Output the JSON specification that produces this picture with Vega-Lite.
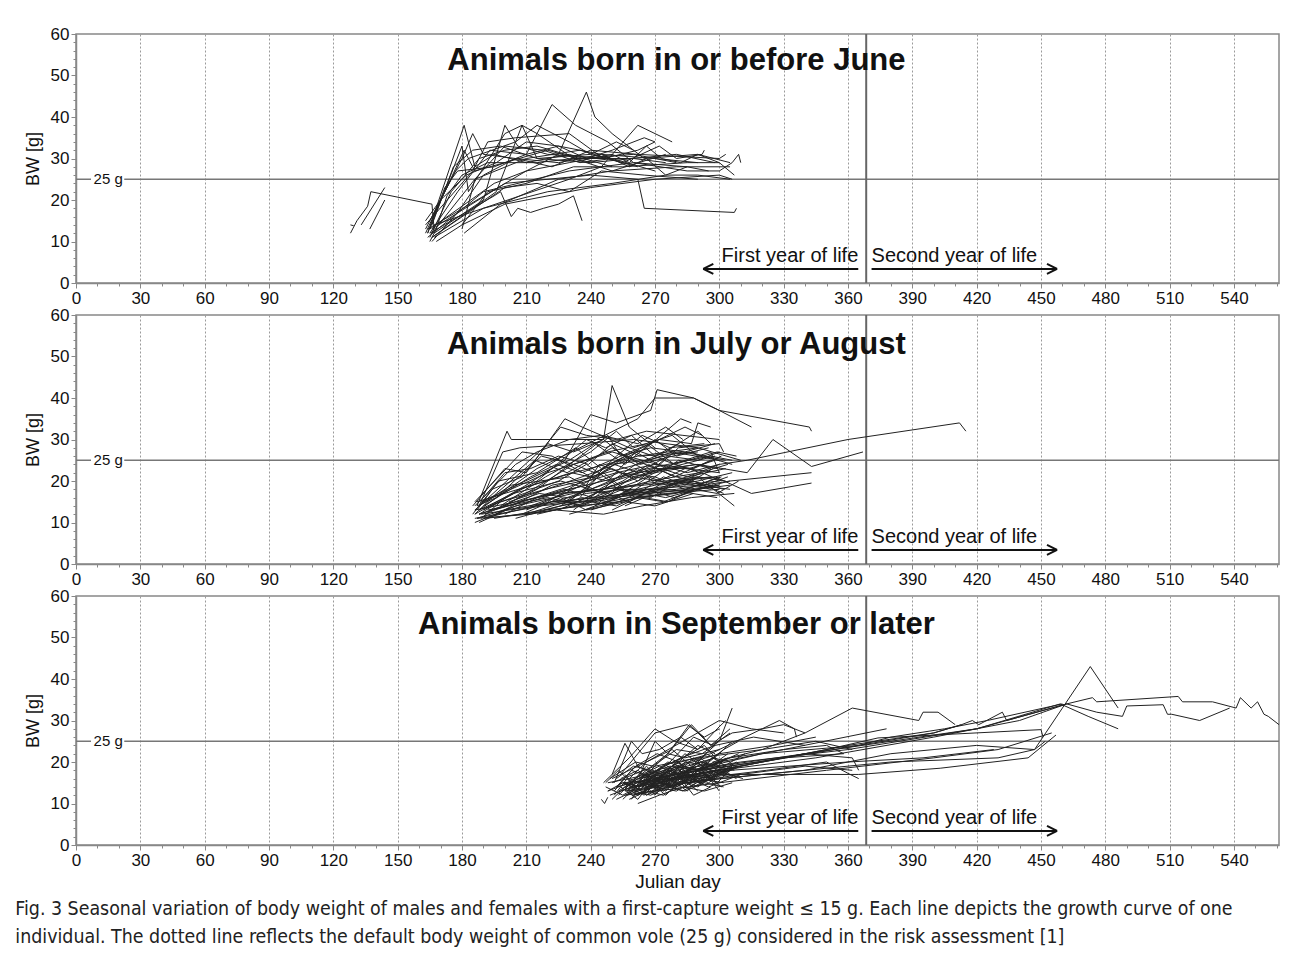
{
  "$schema": "https://vega.github.io/schema/vega-lite/v6.json",
  "padding": {"left": 15, "top": 24, "right": 5, "bottom": 5},
  "background": "white",
  "spacing": 32,
  "bounds": "flush",
  "config": {
    "font": "Liberation Sans",
    "view": {"stroke": "#888", "strokeWidth": 1.5},
    "axis": {"labelFont": "Liberation Sans", "titleFont": "Liberation Sans", "labelColor": "#111", "titleColor": "#111", "labelFontSize": 17, "titleFontSize": 18, "titleFontWeight": "normal", "domainColor": "#888", "domainWidth": 1.5, "tickColor": "#888", "labelFlush": false, "labelOverlap": false},
    "text": {"font": "Liberation Sans", "color": "#111"}
  },
  "title": {
    "text": ["Fig. 3  Seasonal variation of body weight of males and females with a first-capture weight ≤ 15 g. Each line depicts the growth curve of one", "individual. The dotted line reflects the default body weight of common vole (25 g) considered in the risk assessment [1]"],
    "orient": "bottom", "anchor": "start", "frame": "bounds", "font": "'DejaVu Sans Condensed', 'Liberation Sans', sans-serif", "fontSize": 19.4, "fontWeight": "normal", "color": "#222", "lineHeight": 28, "offset": 8, "dx": -8
  },
  "datasets": {
    "p1": [
      {"id":1,"day":128,"bw":12},{"id":1,"day":131,"bw":15},{"id":1,"day":136,"bw":18.5},{"id":1,"day":137.5,"bw":22},{"id":1,"day":166,"bw":19},{"id":1,"day":167,"bw":13},
      {"id":2,"day":133,"bw":14},{"id":2,"day":144,"bw":23},
      {"id":3,"day":137,"bw":13},{"id":3,"day":144,"bw":20},
      {"id":4,"day":128,"bw":14},{"id":4,"day":129.5,"bw":13.8},
      {"id":5,"day":164,"bw":12},{"id":5,"day":181,"bw":38},{"id":5,"day":186,"bw":28},{"id":5,"day":195,"bw":31},{"id":5,"day":210,"bw":29},{"id":5,"day":230,"bw":31},{"id":5,"day":250,"bw":28},
      {"id":6,"day":165,"bw":11},{"id":6,"day":175,"bw":22},{"id":6,"day":188,"bw":30},{"id":6,"day":200,"bw":32},{"id":6,"day":215,"bw":33},{"id":6,"day":235,"bw":30},{"id":6,"day":260,"bw":31},{"id":6,"day":280,"bw":29},
      {"id":7,"day":163,"bw":15},{"id":7,"day":170,"bw":20},{"id":7,"day":182,"bw":26},{"id":7,"day":196,"bw":29},{"id":7,"day":210,"bw":34},{"id":7,"day":225,"bw":33},{"id":7,"day":245,"bw":31},{"id":7,"day":270,"bw":30},{"id":7,"day":290,"bw":29},
      {"id":8,"day":166,"bw":10},{"id":8,"day":178,"bw":17},{"id":8,"day":190,"bw":26},{"id":8,"day":205,"bw":30},{"id":8,"day":222,"bw":28},{"id":8,"day":240,"bw":32},{"id":8,"day":262,"bw":31},{"id":8,"day":300,"bw":30},{"id":8,"day":303,"bw":31},
      {"id":9,"day":165,"bw":13},{"id":9,"day":174,"bw":25},{"id":9,"day":180,"bw":33},{"id":9,"day":183,"bw":22},{"id":9,"day":200,"bw":36},{"id":9,"day":208,"bw":38},{"id":9,"day":215,"bw":30},{"id":9,"day":240,"bw":29},
      {"id":10,"day":167,"bw":12},{"id":10,"day":190,"bw":20},{"id":10,"day":200,"bw":38},{"id":10,"day":206,"bw":33},{"id":10,"day":220,"bw":31},{"id":10,"day":250,"bw":30},{"id":10,"day":270,"bw":27},
      {"id":11,"day":163,"bw":14},{"id":11,"day":185,"bw":27},{"id":11,"day":192,"bw":34},{"id":11,"day":205,"bw":35},{"id":11,"day":230,"bw":36},{"id":11,"day":246,"bw":30},{"id":11,"day":262,"bw":32},{"id":11,"day":270,"bw":34},
      {"id":12,"day":166,"bw":11},{"id":12,"day":196,"bw":22},{"id":12,"day":208,"bw":38},{"id":12,"day":215,"bw":36},{"id":12,"day":232,"bw":30},{"id":12,"day":250,"bw":27},{"id":12,"day":275,"bw":31},
      {"id":13,"day":165,"bw":12},{"id":13,"day":178,"bw":22},{"id":13,"day":193,"bw":32},{"id":13,"day":210,"bw":31},{"id":13,"day":222,"bw":43},{"id":13,"day":233,"bw":38},{"id":13,"day":248,"bw":34},{"id":13,"day":260,"bw":29},{"id":13,"day":285,"bw":28},
      {"id":14,"day":164,"bw":13},{"id":14,"day":210,"bw":27},{"id":14,"day":225,"bw":31},{"id":14,"day":238,"bw":46},{"id":14,"day":242,"bw":40},{"id":14,"day":250,"bw":36},{"id":14,"day":265,"bw":30},{"id":14,"day":290,"bw":31},{"id":14,"day":305,"bw":29},
      {"id":15,"day":167,"bw":14},{"id":15,"day":230,"bw":25},{"id":15,"day":245,"bw":28},{"id":15,"day":262,"bw":38},{"id":15,"day":278,"bw":34},
      {"id":16,"day":165,"bw":12},{"id":16,"day":195,"bw":21},{"id":16,"day":198,"bw":22},{"id":16,"day":203,"bw":16},{"id":16,"day":206,"bw":18},{"id":16,"day":212,"bw":17},{"id":16,"day":218,"bw":18},{"id":16,"day":225,"bw":19},{"id":16,"day":232,"bw":21},{"id":16,"day":236,"bw":15},
      {"id":17,"day":166,"bw":13},{"id":17,"day":200,"bw":24},{"id":17,"day":240,"bw":26},{"id":17,"day":262,"bw":25},{"id":17,"day":265,"bw":18},{"id":17,"day":307,"bw":17},{"id":17,"day":308,"bw":18},
      {"id":18,"day":164,"bw":11},{"id":18,"day":190,"bw":22},{"id":18,"day":230,"bw":27},{"id":18,"day":260,"bw":29},{"id":18,"day":285,"bw":27},{"id":18,"day":300,"bw":27},{"id":18,"day":306,"bw":29},{"id":18,"day":309,"bw":31},{"id":18,"day":310,"bw":29},
      {"id":19,"day":166,"bw":12},{"id":19,"day":186,"bw":25},{"id":19,"day":210,"bw":30},{"id":19,"day":235,"bw":32},{"id":19,"day":255,"bw":29},{"id":19,"day":272,"bw":33},{"id":19,"day":280,"bw":30},{"id":19,"day":292,"bw":31},{"id":19,"day":293,"bw":32},
      {"id":20,"day":168,"bw":10},{"id":20,"day":180,"bw":14},{"id":20,"day":200,"bw":19},{"id":20,"day":240,"bw":23},{"id":20,"day":270,"bw":25},{"id":20,"day":300,"bw":26},{"id":20,"day":306,"bw":25},
      {"id":21,"day":165,"bw":15},{"id":21,"day":180,"bw":30},{"id":21,"day":185,"bw":36},{"id":21,"day":190,"bw":31},{"id":21,"day":205,"bw":30},{"id":21,"day":225,"bw":29},{"id":21,"day":245,"bw":31},{"id":21,"day":258,"bw":28},{"id":21,"day":266,"bw":30},{"id":21,"day":275,"bw":26},{"id":21,"day":285,"bw":28},{"id":21,"day":295,"bw":27},
      {"id":22,"day":163,"bw":12},{"id":22,"day":181,"bw":32},{"id":22,"day":186,"bw":27},{"id":22,"day":200,"bw":29},{"id":22,"day":220,"bw":32},{"id":22,"day":240,"bw":29},{"id":22,"day":260,"bw":30},{"id":22,"day":280,"bw":31},{"id":22,"day":298,"bw":29},
      {"id":23,"day":166,"bw":14},{"id":23,"day":176,"bw":28},{"id":23,"day":185,"bw":32},{"id":23,"day":198,"bw":33},{"id":23,"day":215,"bw":30},{"id":23,"day":240,"bw":31},{"id":23,"day":252,"bw":34},{"id":23,"day":260,"bw":32},
      {"id":24,"day":167,"bw":11},{"id":24,"day":190,"bw":18},{"id":24,"day":220,"bw":22},{"id":24,"day":250,"bw":24},{"id":24,"day":275,"bw":26},{"id":24,"day":290,"bw":26},{"id":24,"day":305,"bw":25},
      {"id":25,"day":165,"bw":13},{"id":25,"day":195,"bw":24},{"id":25,"day":210,"bw":27},{"id":25,"day":230,"bw":29},{"id":25,"day":250,"bw":31},{"id":25,"day":258,"bw":29},{"id":25,"day":266,"bw":33},{"id":25,"day":273,"bw":30},{"id":25,"day":282,"bw":29},{"id":25,"day":290,"bw":31},{"id":25,"day":300,"bw":29},{"id":25,"day":307,"bw":26},
      {"id":26,"day":164,"bw":12},{"id":26,"day":172,"bw":23},{"id":26,"day":178,"bw":27},{"id":26,"day":195,"bw":28},{"id":26,"day":210,"bw":31},{"id":26,"day":225,"bw":33},{"id":26,"day":238,"bw":30},{"id":26,"day":250,"bw":32},{"id":26,"day":265,"bw":35},{"id":26,"day":270,"bw":34},
      {"id":27,"day":166,"bw":11},{"id":27,"day":200,"bw":23},{"id":27,"day":215,"bw":24},{"id":27,"day":230,"bw":22},{"id":27,"day":245,"bw":27},{"id":27,"day":265,"bw":26},{"id":27,"day":290,"bw":25},
      {"id":28,"day":163,"bw":13},{"id":28,"day":177,"bw":27},{"id":28,"day":183,"bw":30},{"id":28,"day":205,"bw":34},{"id":28,"day":215,"bw":38},{"id":28,"day":230,"bw":34},{"id":28,"day":240,"bw":31},{"id":28,"day":262,"bw":28},
      {"id":29,"day":180,"bw":13},{"id":29,"day":186,"bw":25},{"id":29,"day":200,"bw":33},{"id":29,"day":218,"bw":32},{"id":29,"day":235,"bw":29},{"id":29,"day":250,"bw":30},
      {"id":30,"day":180,"bw":14},{"id":30,"day":192,"bw":22},{"id":30,"day":210,"bw":24},{"id":30,"day":232,"bw":28},{"id":30,"day":255,"bw":28},{"id":30,"day":285,"bw":29},{"id":30,"day":300,"bw":29},
      {"id":31,"day":181,"bw":12},{"id":31,"day":198,"bw":19},{"id":31,"day":225,"bw":25},{"id":31,"day":250,"bw":27},{"id":31,"day":280,"bw":28},{"id":31,"day":305,"bw":28},
      {"id":32,"day":165,"bw":10},{"id":32,"day":168,"bw":13},{"id":32,"day":173,"bw":21},{"id":32,"day":180,"bw":26},{"id":32,"day":192,"bw":29},{"id":32,"day":215,"bw":29},{"id":32,"day":232,"bw":30},{"id":32,"day":260,"bw":30},{"id":32,"day":275,"bw":29}
    ],
    "p2": [
      {"id":1,"day":187,"bw":14},{"id":1,"day":201,"bw":32},{"id":1,"day":203,"bw":30},{"id":1,"day":246,"bw":30},{"id":1,"day":250,"bw":43},{"id":1,"day":258,"bw":33},{"id":1,"day":270,"bw":28},
      {"id":2,"day":186,"bw":12},{"id":2,"day":210,"bw":19},{"id":2,"day":228,"bw":25},{"id":2,"day":240,"bw":36},{"id":2,"day":252,"bw":34},{"id":2,"day":268,"bw":37},{"id":2,"day":271,"bw":42},{"id":2,"day":288,"bw":40},{"id":2,"day":300,"bw":37},{"id":2,"day":315,"bw":33},
      {"id":3,"day":188,"bw":13},{"id":3,"day":215,"bw":23},{"id":3,"day":235,"bw":28},{"id":3,"day":262,"bw":35},{"id":3,"day":270,"bw":40},{"id":3,"day":288,"bw":40},{"id":3,"day":300,"bw":37},{"id":3,"day":342,"bw":33},{"id":3,"day":343,"bw":32},
      {"id":4,"day":190,"bw":15},{"id":4,"day":220,"bw":22},{"id":4,"day":250,"bw":27},{"id":4,"day":285,"bw":22},{"id":4,"day":300,"bw":24},{"id":4,"day":313,"bw":25},{"id":4,"day":360,"bw":30},{"id":4,"day":412,"bw":34},{"id":4,"day":415,"bw":32},
      {"id":5,"day":187,"bw":11},{"id":5,"day":230,"bw":18},{"id":5,"day":262,"bw":22},{"id":5,"day":290,"bw":24},{"id":5,"day":313,"bw":22},{"id":5,"day":325,"bw":30},{"id":5,"day":343,"bw":23.5},{"id":5,"day":367,"bw":27},
      {"id":6,"day":186,"bw":13},{"id":6,"day":225,"bw":17},{"id":6,"day":265,"bw":19},{"id":6,"day":298,"bw":21},{"id":6,"day":315,"bw":17},{"id":6,"day":343,"bw":19.5},
      {"id":7,"day":189,"bw":12},{"id":7,"day":240,"bw":16},{"id":7,"day":280,"bw":18},{"id":7,"day":305,"bw":20},{"id":7,"day":343,"bw":22},
      {"id":8,"day":185,"bw":14},{"id":8,"day":200,"bw":23},{"id":8,"day":210,"bw":22},{"id":8,"day":228,"bw":35},{"id":8,"day":236,"bw":33},{"id":8,"day":245,"bw":31},{"id":8,"day":258,"bw":28},{"id":8,"day":275,"bw":25},
      {"id":9,"day":188,"bw":10},{"id":9,"day":205,"bw":14},{"id":9,"day":232,"bw":17},{"id":9,"day":260,"bw":19},{"id":9,"day":290,"bw":21},{"id":9,"day":307,"bw":14},
      {"id":10,"day":191,"bw":12},{"id":10,"day":215,"bw":18},{"id":10,"day":248,"bw":31},{"id":10,"day":254,"bw":26},{"id":10,"day":272,"bw":30},{"id":10,"day":287,"bw":29},{"id":10,"day":290,"bw":34},{"id":10,"day":296,"bw":33},
      {"id":11,"day":186,"bw":15},{"id":11,"day":208,"bw":27},{"id":11,"day":222,"bw":26},{"id":11,"day":240,"bw":21},{"id":11,"day":262,"bw":24},{"id":11,"day":278,"bw":27},{"id":11,"day":300,"bw":25},
      {"id":12,"day":187,"bw":13},{"id":12,"day":197,"bw":20},{"id":12,"day":215,"bw":22},{"id":12,"day":233,"bw":28},{"id":12,"day":245,"bw":23},{"id":12,"day":256,"bw":26},{"id":12,"day":280,"bw":21},{"id":12,"day":302,"bw":18},
      {"id":13,"day":190,"bw":11},{"id":13,"day":222,"bw":15},{"id":13,"day":242,"bw":15},{"id":13,"day":262,"bw":17},{"id":13,"day":282,"bw":19},{"id":13,"day":300,"bw":20},
      {"id":14,"day":188,"bw":14},{"id":14,"day":203,"bw":19},{"id":14,"day":230,"bw":21},{"id":14,"day":245,"bw":17},{"id":14,"day":268,"bw":20},{"id":14,"day":291,"bw":22},
      {"id":15,"day":192,"bw":13},{"id":15,"day":220,"bw":16},{"id":15,"day":236,"bw":14},{"id":15,"day":255,"bw":18},{"id":15,"day":275,"bw":16},{"id":15,"day":297,"bw":19},
      {"id":16,"day":186,"bw":12},{"id":16,"day":196,"bw":17},{"id":16,"day":214,"bw":25},{"id":16,"day":229,"bw":22},{"id":16,"day":250,"bw":28},{"id":16,"day":263,"bw":24},{"id":16,"day":286,"bw":27},{"id":16,"day":306,"bw":24},
      {"id":17,"day":189,"bw":15},{"id":17,"day":230,"bw":25},{"id":17,"day":242,"bw":29},{"id":17,"day":256,"bw":24},{"id":17,"day":270,"bw":30},{"id":17,"day":280,"bw":26},{"id":17,"day":295,"bw":28},
      {"id":18,"day":187,"bw":11},{"id":18,"day":212,"bw":12},{"id":18,"day":234,"bw":14},{"id":18,"day":253,"bw":15},{"id":18,"day":275,"bw":17},{"id":18,"day":300,"bw":18},
      {"id":19,"day":193,"bw":14},{"id":19,"day":225,"bw":20},{"id":19,"day":238,"bw":24},{"id":19,"day":252,"bw":19},{"id":19,"day":266,"bw":22},{"id":19,"day":289,"bw":24},{"id":19,"day":299,"bw":23},
      {"id":20,"day":188,"bw":12},{"id":20,"day":207,"bw":18},{"id":20,"day":231,"bw":22},{"id":20,"day":248,"bw":20},{"id":20,"day":261,"bw":27},{"id":20,"day":275,"bw":23},{"id":20,"day":298,"bw":26},
      {"id":21,"day":200,"bw":12},{"id":21,"day":215,"bw":16},{"id":21,"day":238,"bw":19},{"id":21,"day":244,"bw":24},{"id":21,"day":259,"bw":21},{"id":21,"day":281,"bw":23},
      {"id":22,"day":205,"bw":11},{"id":22,"day":226,"bw":14},{"id":22,"day":248,"bw":16},{"id":22,"day":266,"bw":18},{"id":22,"day":290,"bw":20},{"id":22,"day":306,"bw":22},
      {"id":23,"day":210,"bw":13},{"id":23,"day":232,"bw":18},{"id":23,"day":246,"bw":22},{"id":23,"day":258,"bw":17},{"id":23,"day":270,"bw":21},{"id":23,"day":284,"bw":18},{"id":23,"day":301,"bw":21},
      {"id":24,"day":215,"bw":12},{"id":24,"day":240,"bw":15},{"id":24,"day":252,"bw":14},{"id":24,"day":265,"bw":17},{"id":24,"day":290,"bw":18},{"id":24,"day":305,"bw":19},
      {"id":25,"day":198,"bw":14},{"id":25,"day":219,"bw":21},{"id":25,"day":240,"bw":27},{"id":25,"day":252,"bw":32},{"id":25,"day":260,"bw":28},{"id":25,"day":278,"bw":31},{"id":25,"day":290,"bw":26},
      {"id":26,"day":225,"bw":13},{"id":26,"day":238,"bw":16},{"id":26,"day":255,"bw":20},{"id":26,"day":267,"bw":24},{"id":26,"day":279,"bw":21},{"id":26,"day":296,"bw":25},
      {"id":27,"day":230,"bw":12},{"id":27,"day":244,"bw":14},{"id":27,"day":262,"bw":16},{"id":27,"day":280,"bw":17},{"id":27,"day":300,"bw":21},
      {"id":28,"day":220,"bw":15},{"id":28,"day":236,"bw":20},{"id":28,"day":250,"bw":23},{"id":28,"day":262,"bw":20},{"id":28,"day":274,"bw":25},{"id":28,"day":291,"bw":22},{"id":28,"day":304,"bw":24},
      {"id":29,"day":235,"bw":14},{"id":29,"day":248,"bw":17},{"id":29,"day":258,"bw":15},{"id":29,"day":272,"bw":19},{"id":29,"day":288,"bw":20},{"id":29,"day":302,"bw":17},
      {"id":30,"day":196,"bw":12},{"id":30,"day":222,"bw":19},{"id":30,"day":242,"bw":21},{"id":30,"day":252,"bw":26},{"id":30,"day":264,"bw":31},{"id":30,"day":277,"bw":28},{"id":30,"day":293,"bw":29},
      {"id":31,"day":240,"bw":13},{"id":31,"day":253,"bw":15},{"id":31,"day":266,"bw":18},{"id":31,"day":279,"bw":16},{"id":31,"day":297,"bw":19},
      {"id":32,"day":212,"bw":14},{"id":32,"day":228,"bw":17},{"id":32,"day":244,"bw":18},{"id":32,"day":262,"bw":23},{"id":32,"day":271,"bw":19},{"id":32,"day":285,"bw":21},{"id":32,"day":303,"bw":23},
      {"id":33,"day":187,"bw":14},{"id":33,"day":196,"bw":16},{"id":33,"day":217,"bw":26},{"id":33,"day":232,"bw":24},{"id":33,"day":248,"bw":27},{"id":33,"day":266,"bw":29},{"id":33,"day":279,"bw":24},{"id":33,"day":299,"bw":27},{"id":33,"day":308,"bw":26},
      {"id":34,"day":250,"bw":13},{"id":34,"day":262,"bw":16},{"id":34,"day":274,"bw":15},{"id":34,"day":289,"bw":18},{"id":34,"day":305,"bw":20},
      {"id":35,"day":190,"bw":13},{"id":35,"day":215,"bw":20},{"id":35,"day":238,"bw":30},{"id":35,"day":247,"bw":28},{"id":35,"day":259,"bw":31},{"id":35,"day":270,"bw":26},{"id":35,"day":281,"bw":29},
      {"id":36,"day":188,"bw":12},{"id":36,"day":216,"bw":17},{"id":36,"day":229,"bw":16},{"id":36,"day":251,"bw":20},{"id":36,"day":269,"bw":23},{"id":36,"day":286,"bw":23},{"id":36,"day":298,"bw":25},
      {"id":37,"day":202,"bw":15},{"id":37,"day":225,"bw":19},{"id":37,"day":236,"bw":21},{"id":37,"day":257,"bw":25},{"id":37,"day":268,"bw":22},{"id":37,"day":281,"bw":28},{"id":37,"day":300,"bw":29},{"id":37,"day":302,"bw":27},
      {"id":38,"day":186,"bw":14},{"id":38,"day":205,"bw":24},{"id":38,"day":215,"bw":27},{"id":38,"day":230,"bw":30},{"id":38,"day":245,"bw":31},{"id":38,"day":262,"bw":29},{"id":38,"day":275,"bw":33},{"id":38,"day":283,"bw":30},
      {"id":39,"day":228,"bw":15},{"id":39,"day":240,"bw":19},{"id":39,"day":253,"bw":22},{"id":39,"day":270,"bw":21},{"id":39,"day":281,"bw":25},{"id":39,"day":296,"bw":23},
      {"id":40,"day":185,"bw":12},{"id":40,"day":194,"bw":18},{"id":40,"day":208,"bw":21},{"id":40,"day":220,"bw":29},{"id":40,"day":232,"bw":27},{"id":40,"day":246,"bw":30},{"id":40,"day":258,"bw":25},
      {"id":41,"day":245,"bw":14},{"id":41,"day":255,"bw":17},{"id":41,"day":267,"bw":21},{"id":41,"day":278,"bw":19},{"id":41,"day":292,"bw":22},{"id":41,"day":301,"bw":20},
      {"id":42,"day":218,"bw":13},{"id":42,"day":234,"bw":15},{"id":42,"day":250,"bw":19},{"id":42,"day":261,"bw":16},{"id":42,"day":281,"bw":20},{"id":42,"day":296,"bw":18},
      {"id":43,"day":189,"bw":11},{"id":43,"day":198,"bw":15},{"id":43,"day":219,"bw":18},{"id":43,"day":236,"bw":20},{"id":43,"day":249,"bw":24},{"id":43,"day":266,"bw":25},{"id":43,"day":283,"bw":27},{"id":43,"day":303,"bw":25},
      {"id":44,"day":190,"bw":16},{"id":44,"day":200,"bw":22},{"id":44,"day":212,"bw":23},{"id":44,"day":225,"bw":26},{"id":44,"day":239,"bw":24},{"id":44,"day":250,"bw":29},{"id":44,"day":263,"bw":26},{"id":44,"day":290,"bw":27},
      {"id":45,"day":232,"bw":13},{"id":45,"day":245,"bw":18},{"id":45,"day":258,"bw":20},{"id":45,"day":273,"bw":23},{"id":45,"day":285,"bw":21},{"id":45,"day":300,"bw":24},
      {"id":46,"day":186,"bw":13},{"id":46,"day":203,"bw":21},{"id":46,"day":218,"bw":28},{"id":46,"day":226,"bw":33},{"id":46,"day":238,"bw":31},{"id":46,"day":252,"bw":30},{"id":46,"day":266,"bw":32},{"id":46,"day":283,"bw":31},{"id":46,"day":300,"bw":30},
      {"id":47,"day":222,"bw":15},{"id":47,"day":238,"bw":17},{"id":47,"day":256,"bw":18},{"id":47,"day":276,"bw":18},{"id":47,"day":299,"bw":16},
      {"id":48,"day":187,"bw":15},{"id":48,"day":232,"bw":22},{"id":48,"day":262,"bw":26},{"id":48,"day":290,"bw":28},{"id":48,"day":310,"bw":25},
      {"id":49,"day":191,"bw":11},{"id":49,"day":224,"bw":13},{"id":49,"day":246,"bw":12},{"id":49,"day":264,"bw":14},{"id":49,"day":287,"bw":16},{"id":49,"day":307,"bw":17},
      {"id":50,"day":208,"bw":12},{"id":50,"day":226,"bw":16},{"id":50,"day":238,"bw":13},{"id":50,"day":256,"bw":15},{"id":50,"day":270,"bw":14},{"id":50,"day":288,"bw":17},
      {"id":51,"day":188,"bw":14},{"id":51,"day":199,"bw":27},{"id":51,"day":207,"bw":28},{"id":51,"day":236,"bw":29},{"id":51,"day":260,"bw":30},{"id":51,"day":290,"bw":28},
      {"id":52,"day":240,"bw":15},{"id":52,"day":250,"bw":20},{"id":52,"day":261,"bw":24},{"id":52,"day":275,"bw":27},{"id":52,"day":290,"bw":32},{"id":52,"day":296,"bw":29},
      {"id":53,"day":186,"bw":11},{"id":53,"day":217,"bw":14},{"id":53,"day":250,"bw":16},{"id":53,"day":285,"bw":18},{"id":53,"day":300,"bw":19},
      {"id":54,"day":195,"bw":13},{"id":54,"day":228,"bw":18},{"id":54,"day":241,"bw":16},{"id":54,"day":262,"bw":20},{"id":54,"day":278,"bw":24},{"id":54,"day":296,"bw":27},{"id":54,"day":300,"bw":22},
      {"id":55,"day":235,"bw":16},{"id":55,"day":245,"bw":22},{"id":55,"day":254,"bw":25},{"id":55,"day":266,"bw":28},{"id":55,"day":282,"bw":35},{"id":55,"day":287,"bw":34},
      {"id":56,"day":200,"bw":14},{"id":56,"day":213,"bw":18},{"id":56,"day":232,"bw":24},{"id":56,"day":242,"bw":22},{"id":56,"day":260,"bw":27},{"id":56,"day":272,"bw":30},{"id":56,"day":284,"bw":33},{"id":56,"day":292,"bw":31},
      {"id":57,"day":186,"bw":10},{"id":57,"day":200,"bw":13},{"id":57,"day":222,"bw":15},{"id":57,"day":244,"bw":16},{"id":57,"day":268,"bw":18},{"id":57,"day":290,"bw":19},{"id":57,"day":305,"bw":18},
      {"id":58,"day":188,"bw":13},{"id":58,"day":204,"bw":17},{"id":58,"day":226,"bw":20},{"id":58,"day":240,"bw":18},{"id":58,"day":258,"bw":22},{"id":58,"day":276,"bw":24},{"id":58,"day":296,"bw":26},{"id":58,"day":306,"bw":25},
      {"id":59,"day":190,"bw":14},{"id":59,"day":212,"bw":21},{"id":59,"day":224,"bw":24},{"id":59,"day":236,"bw":22},{"id":59,"day":254,"bw":26},{"id":59,"day":268,"bw":28},{"id":59,"day":284,"bw":27},{"id":59,"day":298,"bw":29},
      {"id":60,"day":210,"bw":12},{"id":60,"day":222,"bw":14},{"id":60,"day":236,"bw":16},{"id":60,"day":248,"bw":15},{"id":60,"day":262,"bw":18},{"id":60,"day":278,"bw":20},{"id":60,"day":296,"bw":21},
      {"id":61,"day":226,"bw":14},{"id":61,"day":238,"bw":18},{"id":61,"day":248,"bw":17},{"id":61,"day":260,"bw":21},{"id":61,"day":272,"bw":20},{"id":61,"day":284,"bw":23},{"id":61,"day":300,"bw":22},
      {"id":62,"day":237,"bw":13},{"id":62,"day":247,"bw":15},{"id":62,"day":258,"bw":18},{"id":62,"day":268,"bw":17},{"id":62,"day":282,"bw":20},{"id":62,"day":293,"bw":19},{"id":62,"day":304,"bw":21},
      {"id":63,"day":242,"bw":14},{"id":63,"day":252,"bw":18},{"id":63,"day":262,"bw":17},{"id":63,"day":274,"bw":21},{"id":63,"day":284,"bw":19},{"id":63,"day":297,"bw":23},
      {"id":64,"day":248,"bw":15},{"id":64,"day":258,"bw":17},{"id":64,"day":268,"bw":16},{"id":64,"day":278,"bw":19},{"id":64,"day":290,"bw":21},{"id":64,"day":303,"bw":20},
      {"id":65,"day":188,"bw":12},{"id":65,"day":214,"bw":16},{"id":65,"day":232,"bw":19},{"id":65,"day":252,"bw":22},{"id":65,"day":270,"bw":24},{"id":65,"day":288,"bw":23},{"id":65,"day":301,"bw":26},
      {"id":66,"day":195,"bw":11},{"id":66,"day":218,"bw":13},{"id":66,"day":238,"bw":14},{"id":66,"day":258,"bw":16},{"id":66,"day":278,"bw":17},{"id":66,"day":300,"bw":19},
      {"id":67,"day":230,"bw":15},{"id":67,"day":241,"bw":20},{"id":67,"day":251,"bw":24},{"id":67,"day":262,"bw":22},{"id":67,"day":276,"bw":26},{"id":67,"day":290,"bw":25},{"id":67,"day":300,"bw":27},
      {"id":68,"day":256,"bw":14},{"id":68,"day":265,"bw":16},{"id":68,"day":276,"bw":15},{"id":68,"day":288,"bw":18},{"id":68,"day":299,"bw":17},{"id":68,"day":309,"bw":20}
    ],
    "p3": [
      {"id":1,"day":246,"bw":15},{"id":1,"day":250,"bw":17},{"id":1,"day":256,"bw":24.5},{"id":1,"day":262,"bw":19},{"id":1,"day":270,"bw":17},{"id":1,"day":285,"bw":19},{"id":1,"day":298,"bw":21},
      {"id":2,"day":248,"bw":13},{"id":2,"day":258,"bw":15},{"id":2,"day":266,"bw":12},{"id":2,"day":275,"bw":14},{"id":2,"day":290,"bw":16},{"id":2,"day":305,"bw":18},
      {"id":3,"day":250,"bw":11},{"id":3,"day":256,"bw":14},{"id":3,"day":262,"bw":12},{"id":3,"day":272,"bw":15},{"id":3,"day":283,"bw":13},{"id":3,"day":296,"bw":17},
      {"id":4,"day":252,"bw":16},{"id":4,"day":260,"bw":19},{"id":4,"day":268,"bw":18},{"id":4,"day":276,"bw":22},{"id":4,"day":284,"bw":21},{"id":4,"day":300,"bw":23},
      {"id":5,"day":247,"bw":14},{"id":5,"day":255,"bw":12},{"id":5,"day":265,"bw":15},{"id":5,"day":278,"bw":17},{"id":5,"day":288,"bw":14},{"id":5,"day":302,"bw":18},
      {"id":6,"day":253,"bw":12},{"id":6,"day":263,"bw":17},{"id":6,"day":270,"bw":25},{"id":6,"day":276,"bw":22},{"id":6,"day":287,"bw":29},{"id":6,"day":296,"bw":24},{"id":6,"day":305,"bw":28},
      {"id":7,"day":255,"bw":15},{"id":7,"day":264,"bw":13},{"id":7,"day":273,"bw":16},{"id":7,"day":281,"bw":18},{"id":7,"day":292,"bw":15},{"id":7,"day":308,"bw":19},
      {"id":8,"day":249,"bw":16},{"id":8,"day":261,"bw":20},{"id":8,"day":269,"bw":19},{"id":8,"day":280,"bw":23},{"id":8,"day":292,"bw":22},{"id":8,"day":300,"bw":25},{"id":8,"day":306,"bw":33},
      {"id":9,"day":258,"bw":11},{"id":9,"day":266,"bw":13},{"id":9,"day":274,"bw":12},{"id":9,"day":286,"bw":16},{"id":9,"day":295,"bw":14},{"id":9,"day":310,"bw":17},
      {"id":10,"day":251,"bw":13},{"id":10,"day":259,"bw":18},{"id":10,"day":270,"bw":16},{"id":10,"day":282,"bw":19},{"id":10,"day":291,"bw":18},{"id":10,"day":304,"bw":21},
      {"id":11,"day":256,"bw":14},{"id":11,"day":268,"bw":16},{"id":11,"day":278,"bw":14},{"id":11,"day":289,"bw":17},{"id":11,"day":299,"bw":19},
      {"id":12,"day":254,"bw":17},{"id":12,"day":262,"bw":22},{"id":12,"day":270,"bw":27},{"id":12,"day":285,"bw":29},{"id":12,"day":293,"bw":26},{"id":12,"day":300,"bw":28},
      {"id":13,"day":260,"bw":12},{"id":13,"day":270,"bw":14},{"id":13,"day":280,"bw":13},{"id":13,"day":290,"bw":16},{"id":13,"day":302,"bw":15},
      {"id":14,"day":248,"bw":15},{"id":14,"day":258,"bw":16},{"id":14,"day":267,"bw":14},{"id":14,"day":279,"bw":16},{"id":14,"day":291,"bw":20},{"id":14,"day":307,"bw":18},
      {"id":15,"day":257,"bw":13},{"id":15,"day":266,"bw":17},{"id":15,"day":273,"bw":15},{"id":15,"day":284,"bw":20},{"id":15,"day":296,"bw":19},{"id":15,"day":309,"bw":22},
      {"id":16,"day":262,"bw":10},{"id":16,"day":272,"bw":12},{"id":16,"day":283,"bw":14},{"id":16,"day":293,"bw":13},{"id":16,"day":306,"bw":15},
      {"id":17,"day":252,"bw":14},{"id":17,"day":261,"bw":19},{"id":17,"day":271,"bw":22},{"id":17,"day":281,"bw":20},{"id":17,"day":290,"bw":24},{"id":17,"day":298,"bw":22},
      {"id":18,"day":259,"bw":15},{"id":18,"day":269,"bw":18},{"id":18,"day":277,"bw":16},{"id":18,"day":286,"bw":18},{"id":18,"day":297,"bw":21},{"id":18,"day":305,"bw":20},
      {"id":19,"day":261,"bw":13},{"id":19,"day":268,"bw":17},{"id":19,"day":276,"bw":20},{"id":19,"day":286,"bw":18},{"id":19,"day":294,"bw":22},{"id":19,"day":303,"bw":19},
      {"id":20,"day":255,"bw":11},{"id":20,"day":263,"bw":15},{"id":20,"day":271,"bw":14},{"id":20,"day":282,"bw":16},{"id":20,"day":288,"bw":12},{"id":20,"day":296,"bw":14},
      {"id":21,"day":264,"bw":14},{"id":21,"day":274,"bw":19},{"id":21,"day":283,"bw":21},{"id":21,"day":293,"bw":24},{"id":21,"day":300,"bw":20},
      {"id":22,"day":250,"bw":17},{"id":22,"day":258,"bw":21},{"id":22,"day":270,"bw":28},{"id":22,"day":279,"bw":25},{"id":22,"day":290,"bw":23},{"id":22,"day":299,"bw":28},{"id":22,"day":303,"bw":30},
      {"id":23,"day":266,"bw":12},{"id":23,"day":274,"bw":15},{"id":23,"day":285,"bw":17},{"id":23,"day":296,"bw":16},{"id":23,"day":308,"bw":20},
      {"id":24,"day":258,"bw":16},{"id":24,"day":266,"bw":20},{"id":24,"day":278,"bw":23},{"id":24,"day":287,"bw":19},{"id":24,"day":298,"bw":24},
      {"id":25,"day":270,"bw":13},{"id":25,"day":279,"bw":16},{"id":25,"day":290,"bw":19},{"id":25,"day":301,"bw":17},{"id":25,"day":310,"bw":19},
      {"id":26,"day":245,"bw":11},{"id":26,"day":246.5,"bw":10},{"id":26,"day":248,"bw":11.5},
      {"id":27,"day":253,"bw":13},{"id":27,"day":262,"bw":16},{"id":27,"day":272,"bw":18},{"id":27,"day":280,"bw":15},{"id":27,"day":294,"bw":17},{"id":27,"day":300,"bw":13},
      {"id":28,"day":263,"bw":15},{"id":28,"day":272,"bw":17},{"id":28,"day":281,"bw":20},{"id":28,"day":288,"bw":17},{"id":28,"day":300,"bw":22},{"id":28,"day":306,"bw":25},
      {"id":29,"day":257,"bw":12},{"id":29,"day":267,"bw":14},{"id":29,"day":276,"bw":18},{"id":29,"day":288,"bw":15},{"id":29,"day":298,"bw":18},{"id":29,"day":311,"bw":16},
      {"id":30,"day":268,"bw":14},{"id":30,"day":276,"bw":18},{"id":30,"day":284,"bw":22},{"id":30,"day":292,"bw":19},{"id":30,"day":302,"bw":23},{"id":30,"day":309,"bw":25},
      {"id":31,"day":251,"bw":15},{"id":31,"day":259,"bw":25},{"id":31,"day":264,"bw":22},{"id":31,"day":272,"bw":23},{"id":31,"day":282,"bw":26},{"id":31,"day":290,"bw":23},
      {"id":32,"day":260,"bw":14},{"id":32,"day":271,"bw":16},{"id":32,"day":280,"bw":19},{"id":32,"day":291,"bw":21},{"id":32,"day":299,"bw":18},{"id":32,"day":312,"bw":22},
      {"id":33,"day":249,"bw":12},{"id":33,"day":259,"bw":14},{"id":33,"day":265,"bw":17},{"id":33,"day":277,"bw":19},{"id":33,"day":289,"bw":18},{"id":33,"day":301,"bw":20},
      {"id":34,"day":265,"bw":16},{"id":34,"day":277,"bw":20},{"id":34,"day":288,"bw":26},{"id":34,"day":297,"bw":24},{"id":34,"day":305,"bw":27},
      {"id":35,"day":251,"bw":12},{"id":35,"day":257,"bw":16},{"id":35,"day":263,"bw":13},{"id":35,"day":269,"bw":17},{"id":35,"day":276,"bw":14},{"id":35,"day":283,"bw":18},{"id":35,"day":291,"bw":15},
      {"id":36,"day":256,"bw":17},{"id":36,"day":261,"bw":14},{"id":36,"day":267,"bw":18},{"id":36,"day":273,"bw":15},{"id":36,"day":279,"bw":19},{"id":36,"day":286,"bw":16},{"id":36,"day":294,"bw":20},
      {"id":37,"day":259,"bw":11},{"id":37,"day":264,"bw":15},{"id":37,"day":270,"bw":12},{"id":37,"day":277,"bw":16},{"id":37,"day":285,"bw":13},{"id":37,"day":293,"bw":17},{"id":37,"day":301,"bw":14},
      {"id":38,"day":263,"bw":13},{"id":38,"day":268,"bw":17},{"id":38,"day":275,"bw":14},{"id":38,"day":281,"bw":19},{"id":38,"day":289,"bw":16},{"id":38,"day":297,"bw":20},{"id":38,"day":305,"bw":17},
      {"id":39,"day":247,"bw":15},{"id":39,"day":253,"bw":18},{"id":39,"day":259,"bw":15},{"id":39,"day":266,"bw":19},{"id":39,"day":272,"bw":16},{"id":39,"day":280,"bw":20},{"id":39,"day":288,"bw":18},
      {"id":40,"day":266,"bw":16},{"id":40,"day":271,"bw":13},{"id":40,"day":278,"bw":17},{"id":40,"day":284,"bw":14},{"id":40,"day":292,"bw":18},{"id":40,"day":299,"bw":15},{"id":40,"day":307,"bw":19},
      {"id":41,"day":254,"bw":14},{"id":41,"day":262,"bw":11},{"id":41,"day":268,"bw":15},{"id":41,"day":275,"bw":12},{"id":41,"day":283,"bw":16},{"id":41,"day":290,"bw":13},
      {"id":42,"day":270,"bw":15},{"id":42,"day":276,"bw":19},{"id":42,"day":282,"bw":16},{"id":42,"day":290,"bw":20},{"id":42,"day":296,"bw":17},{"id":42,"day":303,"bw":21},
      {"id":43,"day":256,"bw":14},{"id":43,"day":276,"bw":22},{"id":43,"day":286,"bw":29},{"id":43,"day":296,"bw":24},{"id":43,"day":306,"bw":27},{"id":43,"day":320,"bw":28},{"id":43,"day":328,"bw":30},{"id":43,"day":335,"bw":28},{"id":43,"day":336,"bw":26},
      {"id":44,"day":250,"bw":15},{"id":44,"day":270,"bw":19},{"id":44,"day":290,"bw":21},{"id":44,"day":320,"bw":23},{"id":44,"day":345,"bw":25},{"id":44,"day":362,"bw":23},
      {"id":45,"day":254,"bw":13},{"id":45,"day":280,"bw":17},{"id":45,"day":305,"bw":19},{"id":45,"day":330,"bw":21},{"id":45,"day":358,"bw":22},
      {"id":46,"day":258,"bw":16},{"id":46,"day":275,"bw":18},{"id":46,"day":300,"bw":22},{"id":46,"day":325,"bw":24},{"id":46,"day":345,"bw":26},
      {"id":47,"day":252,"bw":14},{"id":47,"day":268,"bw":16},{"id":47,"day":290,"bw":18},{"id":47,"day":318,"bw":20},{"id":47,"day":340,"bw":22},{"id":47,"day":362,"bw":21},{"id":47,"day":365,"bw":18},
      {"id":48,"day":262,"bw":15},{"id":48,"day":282,"bw":20},{"id":48,"day":296,"bw":22},{"id":48,"day":320,"bw":28},{"id":48,"day":330,"bw":29},{"id":48,"day":340,"bw":27},
      {"id":49,"day":260,"bw":12},{"id":49,"day":285,"bw":15},{"id":49,"day":310,"bw":17},{"id":49,"day":340,"bw":19},{"id":49,"day":362,"bw":18},
      {"id":50,"day":250,"bw":16},{"id":50,"day":266,"bw":20},{"id":50,"day":283,"bw":25},{"id":50,"day":300,"bw":30},{"id":50,"day":315,"bw":28},{"id":50,"day":330,"bw":27},
      {"id":51,"day":256,"bw":13},{"id":51,"day":290,"bw":16},{"id":51,"day":322,"bw":18},{"id":51,"day":350,"bw":20},{"id":51,"day":361,"bw":17},{"id":51,"day":365,"bw":16},
      {"id":52,"day":264,"bw":16},{"id":52,"day":282,"bw":21},{"id":52,"day":298,"bw":24},{"id":52,"day":316,"bw":26},{"id":52,"day":340,"bw":24},
      {"id":53,"day":266,"bw":14},{"id":53,"day":290,"bw":18},{"id":53,"day":305,"bw":21},{"id":53,"day":330,"bw":23},{"id":53,"day":350,"bw":24},{"id":53,"day":358,"bw":22},
      {"id":54,"day":262,"bw":15},{"id":54,"day":300,"bw":19},{"id":54,"day":340,"bw":22},{"id":54,"day":380,"bw":25},{"id":54,"day":420,"bw":28},{"id":54,"day":462,"bw":34},{"id":54,"day":474,"bw":35.5},{"id":54,"day":476,"bw":34.5},{"id":54,"day":514,"bw":35.8},{"id":54,"day":516,"bw":34.5},{"id":54,"day":530,"bw":34.5},{"id":54,"day":541,"bw":33},{"id":54,"day":543,"bw":35.5},{"id":54,"day":548,"bw":33},{"id":54,"day":551,"bw":34.5},{"id":54,"day":554,"bw":31.5},{"id":54,"day":556,"bw":31},{"id":54,"day":561,"bw":29},
      {"id":55,"day":258,"bw":14},{"id":55,"day":300,"bw":18},{"id":55,"day":345,"bw":21},{"id":55,"day":400,"bw":26},{"id":55,"day":440,"bw":30},{"id":55,"day":462,"bw":34},{"id":55,"day":476,"bw":32},{"id":55,"day":488,"bw":31},{"id":55,"day":490,"bw":33.5},{"id":55,"day":507,"bw":33.8},{"id":55,"day":509,"bw":31.5},{"id":55,"day":511,"bw":31.5},{"id":55,"day":524,"bw":30},{"id":55,"day":538,"bw":33},
      {"id":56,"day":262,"bw":16},{"id":56,"day":310,"bw":20},{"id":56,"day":360,"bw":23},{"id":56,"day":420,"bw":28},{"id":56,"day":459,"bw":34},{"id":56,"day":472,"bw":31},{"id":56,"day":486,"bw":28},
      {"id":57,"day":265,"bw":14},{"id":57,"day":320,"bw":17},{"id":57,"day":380,"bw":20},{"id":57,"day":430,"bw":21},{"id":57,"day":447,"bw":23},{"id":57,"day":473,"bw":43},{"id":57,"day":486,"bw":33},
      {"id":58,"day":255,"bw":15},{"id":58,"day":300,"bw":17},{"id":58,"day":365,"bw":17},{"id":58,"day":403,"bw":18.5},{"id":58,"day":444,"bw":21},{"id":58,"day":457,"bw":26.5},
      {"id":59,"day":262,"bw":14},{"id":59,"day":320,"bw":20},{"id":59,"day":350,"bw":23},{"id":59,"day":374,"bw":25.8},{"id":59,"day":450,"bw":27.8},{"id":59,"day":451,"bw":26},
      {"id":60,"day":297,"bw":20},{"id":60,"day":320,"bw":23},{"id":60,"day":340,"bw":27},{"id":60,"day":362,"bw":33},{"id":60,"day":393,"bw":30},{"id":60,"day":395,"bw":32},{"id":60,"day":402,"bw":32},{"id":60,"day":410,"bw":29},
      {"id":61,"day":264,"bw":15},{"id":61,"day":310,"bw":19},{"id":61,"day":360,"bw":24},{"id":61,"day":400,"bw":27},{"id":61,"day":413,"bw":29},{"id":61,"day":418,"bw":30},{"id":61,"day":421,"bw":29},{"id":61,"day":432,"bw":32},{"id":61,"day":434,"bw":30},{"id":61,"day":462,"bw":34},
      {"id":62,"day":258,"bw":13},{"id":62,"day":300,"bw":16},{"id":62,"day":340,"bw":18},{"id":62,"day":380,"bw":22},{"id":62,"day":420,"bw":24},{"id":62,"day":447,"bw":23},{"id":62,"day":452,"bw":25},
      {"id":63,"day":256,"bw":12},{"id":63,"day":300,"bw":15},{"id":63,"day":350,"bw":18},{"id":63,"day":400,"bw":21},{"id":63,"day":430,"bw":23},{"id":63,"day":455,"bw":27},
      {"id":64,"day":260,"bw":14},{"id":64,"day":305,"bw":18},{"id":64,"day":360,"bw":20},{"id":64,"day":395,"bw":21},{"id":64,"day":428,"bw":23},
      {"id":65,"day":266,"bw":15},{"id":65,"day":320,"bw":20},{"id":65,"day":365,"bw":24},{"id":65,"day":380,"bw":26},{"id":65,"day":405,"bw":28},{"id":65,"day":425,"bw":30},{"id":65,"day":460,"bw":34},
      {"id":66,"day":270,"bw":17},{"id":66,"day":330,"bw":23},{"id":66,"day":378,"bw":28},
      {"id":67,"day":270,"bw":16},{"id":67,"day":320,"bw":22},{"id":67,"day":365,"bw":24},{"id":67,"day":400,"bw":27},{"id":67,"day":413,"bw":29},
      {"id":68,"day":252,"bw":11},{"id":68,"day":260,"bw":13},{"id":68,"day":268,"bw":12},{"id":68,"day":276,"bw":14},{"id":68,"day":284,"bw":13},{"id":68,"day":293,"bw":15},{"id":68,"day":302,"bw":14},
      {"id":69,"day":258,"bw":14},{"id":69,"day":265,"bw":12},{"id":69,"day":272,"bw":16},{"id":69,"day":279,"bw":14},{"id":69,"day":287,"bw":17},{"id":69,"day":295,"bw":15},{"id":69,"day":304,"bw":18},
      {"id":70,"day":262,"bw":12},{"id":70,"day":268,"bw":14},{"id":70,"day":274,"bw":13},{"id":70,"day":282,"bw":16},{"id":70,"day":290,"bw":14},{"id":70,"day":298,"bw":17},
      {"id":71,"day":248,"bw":13},{"id":71,"day":255,"bw":15},{"id":71,"day":263,"bw":14},{"id":71,"day":271,"bw":17},{"id":71,"day":279,"bw":15},{"id":71,"day":287,"bw":19},{"id":71,"day":296,"bw":16},
      {"id":72,"day":265,"bw":13},{"id":72,"day":273,"bw":15},{"id":72,"day":281,"bw":14},{"id":72,"day":289,"bw":18},{"id":72,"day":297,"bw":16},{"id":72,"day":306,"bw":19},
      {"id":73,"day":254,"bw":16},{"id":73,"day":262,"bw":18},{"id":73,"day":270,"bw":15},{"id":73,"day":278,"bw":18},{"id":73,"day":285,"bw":16},{"id":73,"day":293,"bw":19},{"id":73,"day":300,"bw":17},
      {"id":74,"day":268,"bw":15},{"id":74,"day":275,"bw":13},{"id":74,"day":283,"bw":17},{"id":74,"day":291,"bw":15},{"id":74,"day":300,"bw":18},{"id":74,"day":308,"bw":16},
      {"id":75,"day":257,"bw":15},{"id":75,"day":264,"bw":17},{"id":75,"day":272,"bw":19},{"id":75,"day":280,"bw":17},{"id":75,"day":288,"bw":21},{"id":75,"day":296,"bw":19},{"id":75,"day":304,"bw":22}
    ],
    "ref25": [{"day": 0, "day2": 7, "bw": 25}, {"day": 22.5, "day2": 561, "bw": 25}],
    "vline": [{"day": 368.5, "bw": 0, "bw2": 60}],
    "arrows": [
      {"id": "l", "day": 292.5, "bw": 3.4}, {"id": "l", "day": 364.8, "bw": 3.4},
      {"id": "lu", "day": 292.5, "bw": 3.4}, {"id": "lu", "day": 297.2, "bw": 4.6},
      {"id": "ld", "day": 292.5, "bw": 3.4}, {"id": "ld", "day": 297.2, "bw": 2.2},
      {"id": "r", "day": 371, "bw": 3.4}, {"id": "r", "day": 457.5, "bw": 3.4},
      {"id": "ru", "day": 452.8, "bw": 4.6}, {"id": "ru", "day": 457.5, "bw": 3.4},
      {"id": "rd", "day": 452.8, "bw": 2.2}, {"id": "rd", "day": 457.5, "bw": 3.4}
    ],
    "tag25": [{"day": 15, "bw": 25}],
    "yearL": [{"day": 364.8, "bw": 6.4}],
    "yearR": [{"day": 371, "bw": 6.4}]
  },
  "vconcat": [
    {
      "width": 1203, "height": 249,
      "encoding": {
        "x": {"field": "day", "type": "quantitative", "scale": {"domain": [0, 561], "nice": false},
          "axis": {"values": [0,10,20,30,40,50,60,70,80,90,100,110,120,130,140,150,160,170,180,190,200,210,220,230,240,250,260,270,280,290,300,310,320,330,340,350,360,370,380,390,400,410,420,430,440,450,460,470,480,490,500,510,520,530,540,550,560],
            "labelExpr": "datum.value % 30 === 0 ? datum.label : ''", "labelOverlap": false, "grid": true, "gridDash": [2, 2], "gridColor": "#9a9a9a",
            "gridOpacity": {"condition": {"test": "datum.value % 30 === 0 && datum.value > 0", "value": 1}, "value": 0},
            "tickSize": {"condition": {"test": "datum.value % 30 === 0", "value": 5}, "value": 3}, "labelPadding": 2, "title": null}},
        "y": {"field": "bw", "type": "quantitative", "scale": {"domain": [0, 60], "nice": false},
          "axis": {"values": [0,2,4,6,8,10,12,14,16,18,20,22,24,26,28,30,32,34,36,38,40,42,44,46,48,50,52,54,56,58,60],
            "labelExpr": "datum.value % 10 === 0 ? datum.label : ''", "labelOverlap": false, "grid": false,
            "tickSize": {"condition": {"test": "datum.value % 10 === 0", "value": 5}, "value": 3}, "labelPadding": 2, "title": "BW [g]", "titlePadding": 8}}
      },
      "layer": [
        {"data": {"name": "ref25"}, "mark": {"type": "rule", "color": "#777", "strokeWidth": 1.5}, "encoding": {"x2": {"field": "day2"}}},
        {"data": {"name": "vline"}, "mark": {"type": "rule", "color": "#666", "strokeWidth": 2}, "encoding": {"y2": {"field": "bw2"}}},
        {"data": {"name": "p1"}, "mark": {"type": "line", "color": "#222", "strokeWidth": 1}, "encoding": {"detail": {"field": "id"}}},
        {"data": {"name": "arrows"}, "mark": {"type": "line", "color": "#111", "strokeWidth": 2}, "encoding": {"detail": {"field": "id"}}},
        {"data": {"name": "tag25"}, "mark": {"type": "text", "text": "25 g", "fontSize": 15, "align": "center", "baseline": "middle"}},
        {"data": {"name": "yearL"}, "mark": {"type": "text", "text": "First year of life", "fontSize": 20, "align": "right", "baseline": "middle"}},
        {"data": {"name": "yearR"}, "mark": {"type": "text", "text": "Second year of life", "fontSize": 20, "align": "left", "baseline": "middle"}},
        {"data": {"values": [{"day": 280, "bw": 53.5, "panel": "Animals born in or before June"}]}, "mark": {"type": "text", "fontSize": 31, "fontWeight": "bold", "align": "center", "baseline": "middle"}, "encoding": {"text": {"field": "panel"}}}
      ]
    },
    {
      "width": 1203, "height": 249,
      "encoding": {
        "x": {"field": "day", "type": "quantitative", "scale": {"domain": [0, 561], "nice": false},
          "axis": {"values": [0,10,20,30,40,50,60,70,80,90,100,110,120,130,140,150,160,170,180,190,200,210,220,230,240,250,260,270,280,290,300,310,320,330,340,350,360,370,380,390,400,410,420,430,440,450,460,470,480,490,500,510,520,530,540,550,560],
            "labelExpr": "datum.value % 30 === 0 ? datum.label : ''", "labelOverlap": false, "grid": true, "gridDash": [2, 2], "gridColor": "#9a9a9a",
            "gridOpacity": {"condition": {"test": "datum.value % 30 === 0 && datum.value > 0", "value": 1}, "value": 0},
            "tickSize": {"condition": {"test": "datum.value % 30 === 0", "value": 5}, "value": 3}, "labelPadding": 2, "title": null}},
        "y": {"field": "bw", "type": "quantitative", "scale": {"domain": [0, 60], "nice": false},
          "axis": {"values": [0,2,4,6,8,10,12,14,16,18,20,22,24,26,28,30,32,34,36,38,40,42,44,46,48,50,52,54,56,58,60],
            "labelExpr": "datum.value % 10 === 0 ? datum.label : ''", "labelOverlap": false, "grid": false,
            "tickSize": {"condition": {"test": "datum.value % 10 === 0", "value": 5}, "value": 3}, "labelPadding": 2, "title": "BW [g]", "titlePadding": 8}}
      },
      "layer": [
        {"data": {"name": "ref25"}, "mark": {"type": "rule", "color": "#777", "strokeWidth": 1.5}, "encoding": {"x2": {"field": "day2"}}},
        {"data": {"name": "vline"}, "mark": {"type": "rule", "color": "#666", "strokeWidth": 2}, "encoding": {"y2": {"field": "bw2"}}},
        {"data": {"name": "p2"}, "mark": {"type": "line", "color": "#222", "strokeWidth": 1}, "encoding": {"detail": {"field": "id"}}},
        {"data": {"name": "arrows"}, "mark": {"type": "line", "color": "#111", "strokeWidth": 2}, "encoding": {"detail": {"field": "id"}}},
        {"data": {"name": "tag25"}, "mark": {"type": "text", "text": "25 g", "fontSize": 15, "align": "center", "baseline": "middle"}},
        {"data": {"name": "yearL"}, "mark": {"type": "text", "text": "First year of life", "fontSize": 20, "align": "right", "baseline": "middle"}},
        {"data": {"name": "yearR"}, "mark": {"type": "text", "text": "Second year of life", "fontSize": 20, "align": "left", "baseline": "middle"}},
        {"data": {"values": [{"day": 280, "bw": 52.8, "panel": "Animals born in July or August"}]}, "mark": {"type": "text", "fontSize": 31, "fontWeight": "bold", "align": "center", "baseline": "middle"}, "encoding": {"text": {"field": "panel"}}}
      ]
    },
    {
      "width": 1203, "height": 249,
      "encoding": {
        "x": {"field": "day", "type": "quantitative", "scale": {"domain": [0, 561], "nice": false},
          "axis": {"values": [0,10,20,30,40,50,60,70,80,90,100,110,120,130,140,150,160,170,180,190,200,210,220,230,240,250,260,270,280,290,300,310,320,330,340,350,360,370,380,390,400,410,420,430,440,450,460,470,480,490,500,510,520,530,540,550,560],
            "labelExpr": "datum.value % 30 === 0 ? datum.label : ''", "labelOverlap": false, "grid": true, "gridDash": [2, 2], "gridColor": "#9a9a9a",
            "gridOpacity": {"condition": {"test": "datum.value % 30 === 0 && datum.value > 0", "value": 1}, "value": 0},
            "tickSize": {"condition": {"test": "datum.value % 30 === 0", "value": 5}, "value": 3}, "labelPadding": 2, "title": "Julian day", "titleFontSize": 19, "titlePadding": 4}},
        "y": {"field": "bw", "type": "quantitative", "scale": {"domain": [0, 60], "nice": false},
          "axis": {"values": [0,2,4,6,8,10,12,14,16,18,20,22,24,26,28,30,32,34,36,38,40,42,44,46,48,50,52,54,56,58,60],
            "labelExpr": "datum.value % 10 === 0 ? datum.label : ''", "labelOverlap": false, "grid": false,
            "tickSize": {"condition": {"test": "datum.value % 10 === 0", "value": 5}, "value": 3}, "labelPadding": 2, "title": "BW [g]", "titlePadding": 8}}
      },
      "layer": [
        {"data": {"name": "ref25"}, "mark": {"type": "rule", "color": "#777", "strokeWidth": 1.5}, "encoding": {"x2": {"field": "day2"}}},
        {"data": {"name": "vline"}, "mark": {"type": "rule", "color": "#666", "strokeWidth": 2}, "encoding": {"y2": {"field": "bw2"}}},
        {"data": {"name": "p3"}, "mark": {"type": "line", "color": "#222", "strokeWidth": 1}, "encoding": {"detail": {"field": "id"}}},
        {"data": {"name": "arrows"}, "mark": {"type": "line", "color": "#111", "strokeWidth": 2}, "encoding": {"detail": {"field": "id"}}},
        {"data": {"name": "tag25"}, "mark": {"type": "text", "text": "25 g", "fontSize": 15, "align": "center", "baseline": "middle"}},
        {"data": {"name": "yearL"}, "mark": {"type": "text", "text": "First year of life", "fontSize": 20, "align": "right", "baseline": "middle"}},
        {"data": {"name": "yearR"}, "mark": {"type": "text", "text": "Second year of life", "fontSize": 20, "align": "left", "baseline": "middle"}},
        {"data": {"values": [{"day": 280, "bw": 53, "panel": "Animals born in September or later"}]}, "mark": {"type": "text", "fontSize": 31, "fontWeight": "bold", "align": "center", "baseline": "middle"}, "encoding": {"text": {"field": "panel"}}}
      ]
    }
  ]
}
